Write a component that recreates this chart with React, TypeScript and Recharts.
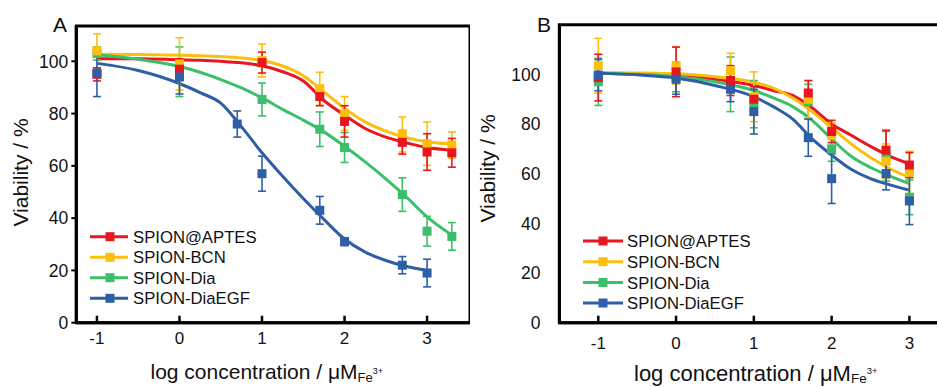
import React from "react";
import { ComposedChart, Line, Scatter, ErrorBar, XAxis, YAxis, ReferenceArea } from "recharts";

const FONT = "'Liberation Sans', Arial, sans-serif";

const seriesNames = ["SPION@APTES", "SPION-BCN", "SPION-Dia", "SPION-DiaEGF"];
const seriesColors = ["#e8161e", "#fcbf0e", "#3cbf6b", "#2e5fa6"];
const xTicks = [-1, 0, 1, 2, 3];
const yTicks = [0, 20, 40, 60, 80, 100];

// panel A, measured points (log dose, viability %, error)
const doseA = [-1, 0, 1, 1.7, 2, 2.7, 3, 3.3];
const doseAEgf = [-1, 0, 0.7, 1, 1.7, 2, 2.7, 3];
const aptesA = [95, 97, 99.5, 86.5, 77, 69, 65.3, 65];
const aptesAErr = [2.5, 4, 4, 3.5, 6, 4.5, 7, 5.5];
const bcnA = [104, 99, 100.3, 89.5, 80, 72, 68.5, 68];
const bcnAErr = [6.5, 10, 6.3, 6.3, 6.5, 6.7, 8.3, 5];
const diaA = [103, 96, 85.4, 74, 67, 49, 35, 33];
const diaAErr = [2.5, 9.5, 6.3, 6.6, 5.7, 6.4, 5.7, 5.3];
const egfA = [95.5, 94, 76, 57, 43, 31, 22, 19];
const egfAErr = [9, 6.5, 5, 6.7, 5.3, 1.5, 3.3, 5.3];

// panel A, fitted curves
const fitXA = [-1, -0.5, 0, 0.25, 0.5, 0.75, 1, 1.25, 1.5, 1.75, 2, 2.25, 2.5, 2.75, 3, 3.3];
const fitAptesA = [101, 101, 100.6, 100.4, 100, 99.4, 98.3, 96, 92.5, 85, 79.4, 74.3, 71, 68.8, 67, 66];
const fitBcnA = [102.7, 102.6, 102.3, 102.1, 101.8, 101.3, 100.3, 98.2, 94.5, 88.3, 82, 76.8, 73.3, 70.8, 69.2, 68.4];
const fitDiaA = [102.5, 100.8, 98, 95.8, 93, 89.8, 86, 81.6, 77.5, 73, 67.5, 61.5, 55, 48, 40.5, 33.5];
const fitEgfA = [99.2, 96.5, 91.5, 88, 84, 75, 65, 56, 47.5, 39.5, 32, 27, 23.8, 21.5, 20];

// panel B, measured points
const doseB = [-1, 0, 0.7, 1, 1.7, 2, 2.7, 3];
const aptesB = [98.7, 101, 97.5, 90, 92.5, 77, 69.5, 63.5];
const aptesBErr = [9.4, 10, 6, 5, 5, 4.5, 8, 5];
const bcnB = [103.5, 103.5, 101.5, 91, 90, 75.5, 65, 60.5];
const bcnBErr = [11, 7.5, 7, 10, 7.5, 5, 7, 8.5];
const diaB = [97, 99, 96, 88, 89, 70, 67, 50.5];
const diaBErr = [9.5, 6, 11, 9.5, 7, 5, 10, 7];
const egfB = [99.7, 98, 94, 85, 74.5, 58, 60, 49];
const egfBErr = [6.3, 6, 5, 9, 7.5, 10, 6.5, 9.5];

// panel B, fitted curves
const fitXB = [-1, -0.5, 0, 0.5, 1, 1.25, 1.5, 1.75, 2, 2.25, 2.5, 2.75, 3];
const fitAptesB = [100.5, 100.2, 99.5, 98, 95.5, 93.5, 91.5, 86.5, 80, 75.5, 71, 67, 64];
const fitBcnB = [100.8, 100.6, 100.2, 99, 96.8, 94.5, 90.5, 85, 78.5, 72, 66.5, 62, 58.5];
const fitDiaB = [100.5, 100, 99, 97, 93.5, 90.5, 87, 81.5, 74, 67, 62.5, 59, 56];
const fitEgfB = [100.5, 99.8, 98.5, 95.5, 91, 87, 82, 74, 67.5, 61.8, 58, 55.5, 53.4];

const pts = (xs: number[], ys: number[], es: number[]) =>
  xs.map((x, i) => ({ x, y: ys[i], err: es[i] }));
const curve = (xs: number[], ys: number[]) => ys.map((y, i) => ({ x: xs[i], y }));

const panelA = {
  points: [pts(doseA, aptesA, aptesAErr), pts(doseA, bcnA, bcnAErr), pts(doseA, diaA, diaAErr), pts(doseAEgf, egfA, egfAErr)],
  curves: [curve(fitXA, fitAptesA), curve(fitXA, fitBcnA), curve(fitXA, fitDiaA), curve(fitXA, fitEgfA)],
};
const panelB = {
  points: [pts(doseB, aptesB, aptesBErr), pts(doseB, bcnB, bcnBErr), pts(doseB, diaB, diaBErr), pts(doseB, egfB, egfBErr)],
  curves: [curve(fitXB, fitAptesB), curve(fitXB, fitBcnB), curve(fitXB, fitDiaB), curve(fitXB, fitEgfB)],
};

const square = (color: string) => (p: any) =>
  <rect x={p.cx - 4.5} y={p.cy - 4.5} width={9} height={9} fill={color} />;

function Panel({ left, width, top, yWidth, xDomain, yMax, data, xGap, yGap, yTickLen }: any) {
  const xTick = (p: any) => (
    <g>
      <line x1={p.x} x2={p.x} y1={p.y} y2={p.y - 7} stroke="#000" strokeWidth={2.5} />
      <text x={p.x} y={p.y + xGap} dy="0.72em" textAnchor="middle" fontSize={17} fill="#111" fontFamily={FONT}>
        {p.payload.value}
      </text>
    </g>
  );
  const yTick = (p: any) => (
    <g>
      {yTickLen > 0 && <line x1={p.x} x2={p.x - yTickLen} y1={p.y} y2={p.y} stroke="#000" strokeWidth={2} />}
      <text x={p.x - yGap} y={p.y} dy="0.36em" textAnchor="end" fontSize={17.5} fill="#111" fontFamily={FONT}>
        {p.payload.value}
      </text>
    </g>
  );
  const order = [2, 1, 0, 3];
  return (
    <div style={{ position: "absolute", left, top: 0 }}>
      <ComposedChart width={width} height={387} margin={{ top, right: 0, left: 0, bottom: 0 }}>
        <XAxis type="number" dataKey="x" domain={xDomain} ticks={xTicks} allowDataOverflow height={64.3}
          axisLine={{ stroke: "#000", strokeWidth: 3 }} tickLine={false} tickSize={0} tickMargin={0} tick={xTick} />
        <YAxis type="number" domain={[0, yMax]} ticks={yTicks} allowDataOverflow width={yWidth}
          axisLine={{ stroke: "#000", strokeWidth: 3 }} tickLine={false} tickSize={0} tickMargin={0} tick={yTick} />
        <ReferenceArea x1={xDomain[0]} x2={xDomain[1]} y1={0} y2={yMax} fill="none" stroke="#000" strokeWidth={3} ifOverflow="visible" />
        {data.curves.map((c: any, i: number) => (
          <Line key={"c" + i} data={c} dataKey="y" type="monotone" dot={false} activeDot={false}
            stroke={seriesColors[i]} strokeWidth={3} isAnimationActive={false} />
        ))}
        {order.map((i) => (
          <Scatter key={"s" + i} data={data.points[i]} dataKey="y" shape={square(seriesColors[i])} isAnimationActive={false}>
            <ErrorBar dataKey="err" direction="y" width={4} stroke={seriesColors[i]} strokeWidth={1.6} />
          </Scatter>
        ))}
      </ComposedChart>
    </div>
  );
}

function LegendBox({ rows, x0, x1, sq, tx }: any) {
  return (
    <g>
      {seriesNames.map((name, i) => (
        <g key={name}>
          <line x1={x0} x2={x1} y1={rows[i]} y2={rows[i]} stroke={seriesColors[i]} strokeWidth={3} />
          <rect x={sq - 4.5} y={rows[i] - 4.5} width={9} height={9} fill={seriesColors[i]} />
          <text x={tx} y={rows[i] + 6} fontSize={16.7} fill="#111" fontFamily={FONT}>{name}</text>
        </g>
      ))}
    </g>
  );
}

export default function App() {
  return (
    <div style={{ position: "absolute", left: 0, top: 0, width: 937, height: 387, overflow: "hidden", background: "#fff", fontFamily: FONT }}>
      <Panel left={0} width={470} top={26} yWidth={76.3} xDomain={[-1.25, 3.52]} yMax={113.5}
        data={panelA} xGap={9.5} yGap={8} yTickLen={5} />
      <Panel left={470} width={478.3} top={24.7} yWidth={89.4} xDomain={[-1.5, 3.5]} yMax={120}
        data={panelB} xGap={14} yGap={19} yTickLen={0} />
      <svg width={937} height={387} style={{ position: "absolute", left: 0, top: 0, pointerEvents: "none" }}>
        <text x={53} y={32} fontSize={21} fill="#111" fontFamily={FONT}>A</text>
        <text x={537} y={32} fontSize={21} fill="#111" fontFamily={FONT}>B</text>
        <text transform="translate(28,172.5) rotate(-90)" textAnchor="middle" fontSize={21} fill="#111" fontFamily={FONT}>
          Viability / %
        </text>
        <text transform="translate(495,168.5) rotate(-90)" textAnchor="middle" fontSize={21} fill="#111" fontFamily={FONT}>
          Viability / %
        </text>
        <text x={150.5} y={379} fontSize={21} fill="#111" fontFamily={FONT}>
          log concentration / μM
          <tspan fontSize={13} dy={3}>Fe</tspan>
          <tspan fontSize={9} dy={-8.5}>3+</tspan>
        </text>
        <text x={634} y={381} fontSize={22} fill="#111" fontFamily={FONT}>
          log concentration / μM
          <tspan fontSize={13.5} dy={1.5}>Fe</tspan>
          <tspan fontSize={9.5} dy={-8.5}>3+</tspan>
        </text>
        <LegendBox rows={[236.7, 257.3, 277.7, 298.3]} x0={90} x1={128} sq={110} tx={133} />
        <LegendBox rows={[241, 261.7, 282.5, 303]} x0={583} x1={623} sq={603} tx={627} />
      </svg>
    </div>
  );
}
